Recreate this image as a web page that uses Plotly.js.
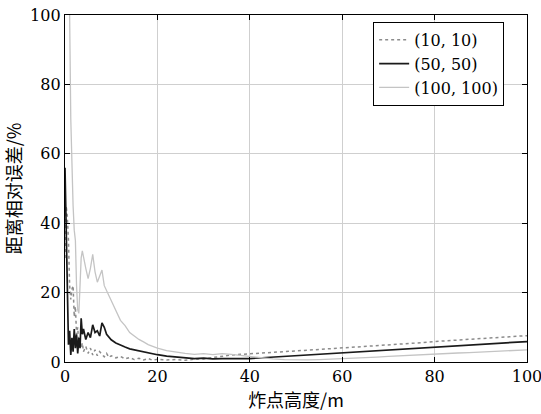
<!DOCTYPE html>
<html>
<head>
<meta charset="utf-8">
<script src="https://cdn.plot.ly/plotly-3.0.1.min.js"></script>
<style>html,body{margin:0;padding:0;background:#fff;}#chart{width:541px;height:414px;}</style>
</head>
<body>
<div id="chart"></div>
<script>
var heights = [0,0.25,0.5,0.75,1,1.25,1.5,1.75,2,2.25,2.5,2.75,3,3.25,3.5,3.75,4,4.5,5,5.5,6,6.5,7,7.5,8,8.5,9,9.5,10,11,12,13,14,15,16,17,18,19,20,22,24,26,28,30,32,34,36,38,40,42.5,45,47.5,50,52.5,55,57.5,60,62.5,65,67.5,70,72.5,75,77.5,80,82.5,85,87.5,90,92.5,95,97.5,100];

var err10 = [30,45,42,35,22,18,21,22,13,16,8,10,5,6.5,4,5.5,3,4.5,2.5,4,2,3.5,1.8,3,2.2,1.5,2.5,1.3,1.8,1.2,1.6,0.9,1.3,0.7,1.1,0.6,1.0,0.5,0.8,0.6,0.7,0.5,0.8,0.9,1.3,1.7,2.0,2.2,2.4,2.6,2.8,3.0,3.2,3.4,3.6,3.9,4.1,4.3,4.6,4.8,5.0,5.2,5.4,5.6,5.9,6.1,6.3,6.6,6.8,7.0,7.2,7.4,7.6];

var err50 = [56,40,20,5,9,2,7,3,9.5,4,8,2.5,7,4,12.6,8,9.5,6.5,8.5,7,10.7,8.5,9,7.5,11.3,10,8,7.2,6.4,5.5,4.8,4.3,3.8,3.5,3.2,3.0,2.7,2.4,2.1,1.7,1.4,1.2,1.0,1.1,0.9,1.0,0.9,1.0,1.0,1.2,1.4,1.6,1.8,2.0,2.2,2.4,2.6,2.8,3.0,3.2,3.4,3.6,3.8,3.9,4.1,4.3,4.6,4.8,5.0,5.2,5.4,5.6,5.9];

var err100 = [120,130,115,105,100,70,55,45,38,35,22,15,14,22,30,32,30,27,24,27,31,26,23,25,26.5,22,20.5,19,17.5,14.5,12,10.5,8.5,7.5,6.5,5.8,5,4.5,4.0,3.3,2.8,2.5,2.2,2.4,2.1,2.4,2.2,1.9,1.6,1.2,0.9,0.7,0.6,0.6,0.7,0.8,0.9,1.1,1.3,1.4,1.6,1.8,1.9,2.1,2.2,2.4,2.6,2.7,2.9,3.0,3.2,3.4,3.5];

var names = ['(10, 10)', '(50, 50)', '(100, 100)'];
var xTicks = [0,20,40,60,80,100];
var yTicks = [0,20,40,60,80,100];

var SERIF = 'DejaVu Serif';

var traces = [
  {x: heights, y: err10, name: names[0], mode: 'lines', line: {color: '#8c8c8c', width: 1.5, dash: 'dot'}},
  {x: heights, y: err50, name: names[1], mode: 'lines', line: {color: '#1a1a1a', width: 1.7}},
  {x: heights, y: err100, name: names[2], mode: 'lines', line: {color: '#c4c4c4', width: 1.3}}
];

var axisCommon = {
  range: [0, 100],
  showline: true, linecolor: '#000', linewidth: 1.2, mirror: 'ticks',
  ticks: 'inside', ticklen: 5, tickcolor: '#000', tickwidth: 1.2,
  showgrid: true, gridcolor: '#cfcfcf', gridwidth: 1.3,
  zeroline: false,
  tickfont: {family: SERIF, size: 16, color: '#000'},
  ticklabeloverflow: 'allow',
  automargin: false
};

var layout = {
  width: 541, height: 414,
  margin: {l: 65, r: 14, t: 15, b: 52},
  paper_bgcolor: '#fff', plot_bgcolor: '#fff',
  showlegend: true,
  legend: {
    x: 0.667, y: 0.98, xanchor: 'left', yanchor: 'top',
    bgcolor: '#fff', bordercolor: '#000', borderwidth: 1,
    font: {family: SERIF, size: 16, color: '#000'},
    tracegroupgap: 0
  },
  xaxis: Object.assign({}, axisCommon, {
    tickvals: xTicks, ticktext: xTicks.map(String),
    title: {text: '炸点高度/m', standoff: 4, font: {family: 'Noto Sans CJK SC', size: 18, color: '#000'}}
  }),
  yaxis: Object.assign({}, axisCommon, {
    tickvals: yTicks, ticktext: yTicks.map(String),
    title: {text: '距离相对误差/%', standoff: 8, font: {family: 'Noto Sans CJK SC', size: 18, color: '#000'}}
  })
};

Plotly.newPlot('chart', traces, layout, {displayModeBar: false, staticPlot: true});
</script>
</body>
</html>
